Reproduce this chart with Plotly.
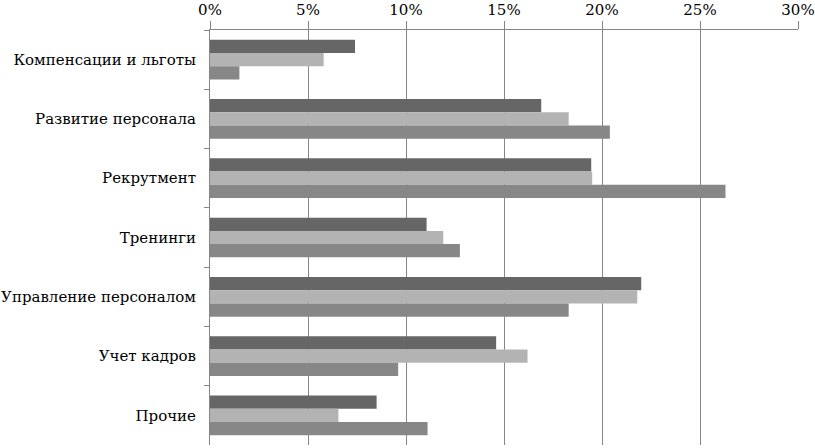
import plotly.graph_objects as go

categories = ["Компенсации и льготы", "Развитие персонала", "Рекрутмент", "Тренинги",
              "Управление персоналом", "Учет кадров", "Прочие"]
series_a = [7.4, 16.9, 19.45, 11.05, 22.0, 14.6, 8.5]
series_b = [5.8, 18.3, 19.5, 11.9, 21.8, 16.2, 6.55]
series_c = [1.5, 20.4, 26.3, 12.75, 18.3, 9.6, 11.1]
tick_vals = [0, 5, 10, 15, 20, 25, 30]
tick_text = ["0%", "5%", "10%", "15%", "20%", "25%", "30%"]

colors = ["#666666", "#b3b3b3", "#878787"]
FONT = "DejaVu Serif"

fig = go.Figure()
for vals, col in zip([series_a, series_b, series_c], colors):
    fig.add_trace(go.Bar(y=categories, x=vals, orientation="h",
                         marker=dict(color=col, line=dict(width=0)),
                         showlegend=False, hoverinfo="skip"))

fig.update_layout(
    width=815, height=448,
    margin=dict(l=210, r=17, t=30, b=3),
    paper_bgcolor="white", plot_bgcolor="white",
    barmode="group", bargap=0.33, bargroupgap=0,
    font=dict(family=FONT, size=15, color="black"),
    xaxis=dict(side="top", range=[0, 30], tickvals=tick_vals, ticktext=tick_text,
               showgrid=True, gridcolor="#868686", gridwidth=1,
               showline=True, linecolor="#868686", linewidth=1,
               ticks="outside", ticklen=8, tickcolor="#868686",
               tickfont=dict(family=FONT, size=15),
               zeroline=False, automargin=False),
    yaxis=dict(autorange="reversed", type="category",
               showline=True, linecolor="#868686", linewidth=1,
               ticks="outside", ticklen=5, tickcolor="#868686",
               tickson="boundaries", showgrid=False, ticklabelstandoff=10,
               tickfont=dict(family=FONT, size=15), automargin=False),
)

fig.write_html("out.html", config={"displayModeBar": False},
               post_script="document.body.style.margin='0px';")
